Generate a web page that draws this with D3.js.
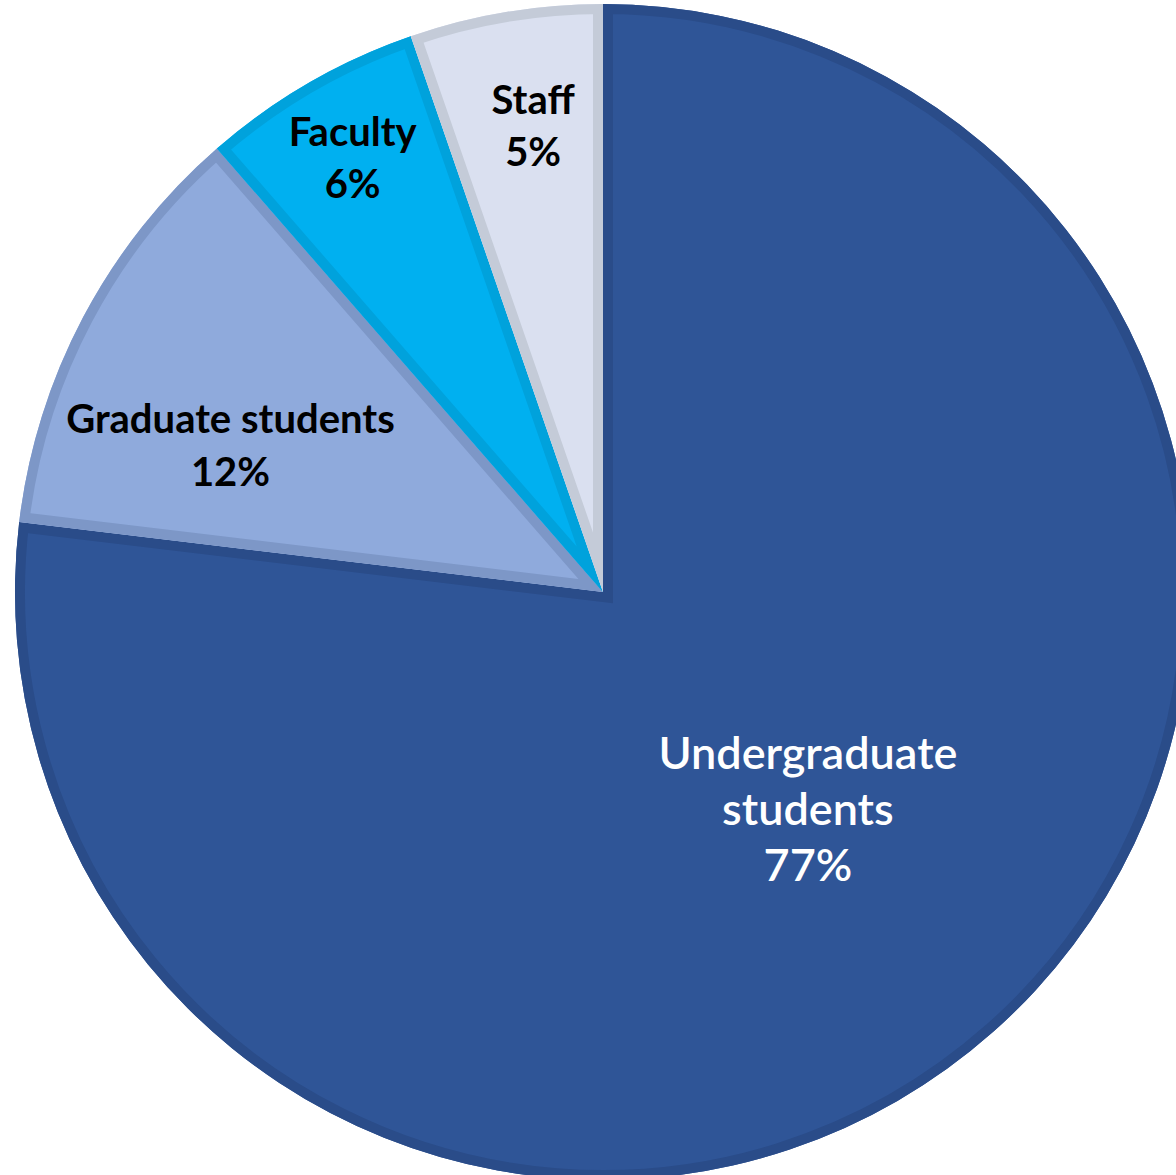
<!DOCTYPE html>
<html><head><meta charset="utf-8">
<script src="https://cdn.jsdelivr.net/npm/d3@7"></script>
<style>html,body{margin:0;padding:0;background:#fff;overflow:hidden}</style>
</head><body>
<svg id="chart" width="1176" height="1175"></svg>
<script>
// ---- data ----
const categories = ["Undergraduate students", "Graduate students", "Faculty", "Staff"];
const values = [76.9, 11.7, 6.1, 5.3];
const pctLabels = ["77%", "12%", "6%", "5%"];

// ---- style ----
const fills   = ["#2F5597", "#8FAADC", "#00B0F0", "#DAE0F0"];
const borders = ["#2A4C89", "#7D97C7", "#00A2DC", "#C4CBD8"];
const textCol = ["#ffffff", "#000000", "#000000", "#000000"];
const labelLines = [["Undergraduate", "students"], ["Graduate students"], ["Faculty"], ["Staff"]];
const labelR  = [0.515, 0.68, 0.85, 0.80];
const labelDA = [-1.0, -6.6, 0, 1.0];   // angular nudge in degrees
const fontSize = [45, 40, 40, 40];
const fontW    = [600, 700, 700, 700];
const lineGap  = [56, 53, 52, 52];
const baseShift = [10, 13, 13, 13];

const W = 1176, H = 1175;
const cx = 603, cy = 592, R = 588;
const svg = d3.select("#chart");
const g = svg.append("g").attr("transform", `translate(${cx},${cy})`);

const data = categories.map((c, i) => ({cat: c, value: values[i], i}));
const pie = d3.pie().value(d => d.value).sort(null);
const arcs = pie(data);
const arc = d3.arc().innerRadius(0).outerRadius(R);

const defs = svg.append("defs");
arcs.forEach((a, i) => {
  defs.append("clipPath").attr("id", "clip" + i)
    .append("path").attr("d", arc(a));
});

const sl = g.selectAll("g.slice").data(arcs).enter().append("g").attr("class", "slice");
sl.append("path").attr("d", arc).attr("fill", d => fills[d.index]);
sl.append("path").attr("d", arc)
  .attr("fill", "none")
  .attr("stroke", d => borders[d.index])
  .attr("stroke-width", 20)
  .attr("stroke-linejoin", "miter")
  .attr("clip-path", d => `url(#clip${d.index})`);

// labels
arcs.forEach((a, i) => {
  const mid = (a.startAngle + a.endAngle) / 2 + labelDA[i] * Math.PI / 180;
  const r = R * labelR[i];
  const x = Math.sin(mid) * r, y = -Math.cos(mid) * r;
  const lines = labelLines[i].concat([pctLabels[i]]);
  const n = lines.length;
  const t = g.append("text")
    .attr("text-anchor", "middle")
    .attr("font-family", "Lato, 'Open Sans', sans-serif")
    .attr("font-size", fontSize[i])
    .attr("font-weight", fontW[i])
    .attr("fill", textCol[i]);
  lines.forEach((ln, k) => {
    t.append("tspan").attr("x", x)
      .attr("y", y + (k - (n - 1) / 2) * lineGap[i] + baseShift[i])
      .text(ln);
  });
});
</script>
</body></html>
